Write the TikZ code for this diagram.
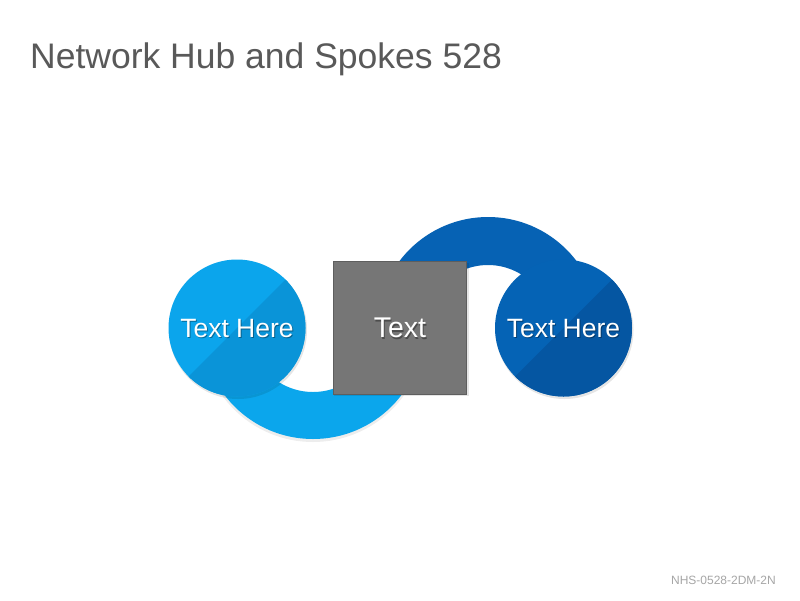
\documentclass[tikz,border=0pt]{standalone}
\usepackage{fontspec}
\setmainfont{Liberation Sans}
\usetikzlibrary{calc}
\definecolor{lightring}{HTML}{0BA6EC}
\definecolor{lighttop}{HTML}{0BA5EC}
\definecolor{lightlow}{HTML}{0A94D8}
\definecolor{darkring}{HTML}{0662B4}
\definecolor{darktop}{HTML}{0563B5}
\definecolor{darklow}{HTML}{0556A2}
\definecolor{hubgray}{HTML}{767676}
\definecolor{hubedge}{HTML}{5E5E5E}
\definecolor{titlegray}{HTML}{595959}
\definecolor{footgray}{HTML}{A6A6A6}
\tikzset{
  spoke/.style args={#1 and #2}{circle, minimum size=137pt, inner sep=0pt, fill=#1,
    path picture={\fill[#2] (path picture bounding box.south west) -- (path picture bounding box.north east) -- (path picture bounding box.south east) -- cycle;}},
  hubbox/.style={rectangle, minimum size=133pt, inner sep=0pt, fill=hubgray, draw=hubedge, line width=0.8pt},
  shade/.style={fill=black, opacity=0.10},
  whitetext/.style={text=white},
  shadowtext/.style={text=black, opacity=0.35}
}
\begin{document}
\begin{tikzpicture}[x=1pt,y=-1pt]
\useasboundingbox (0,0) rectangle (800,600);
\fill[white] (0,0) rectangle (800,600);
% title and footer
\node[anchor=base west, inner sep=0pt, text=titlegray, font=\fontsize{35.5}{40}\selectfont] (title) at (30,68) {Network Hub and Spokes 528};
\node[anchor=base east, inner sep=0pt, text=footgray, font=\fontsize{12}{14}\selectfont] (foot) at (776,584) {NHS-0528-2DM-2N};
% rings
\fill[black, opacity=0.07] (313+112,330) arc[start angle=0, end angle=180, radius=112] -- (313-64,330) arc[start angle=180, end angle=0, radius=64] -- cycle;
\fill[lightring] (313+111,328) arc[start angle=0, end angle=180, radius=111] -- (313-64,328) arc[start angle=180, end angle=0, radius=64] -- cycle;
\fill[darkring] (488-111,328) arc[start angle=180, end angle=360, radius=111] -- (488+63,328) arc[start angle=0, end angle=-180, radius=63] -- cycle;
% shadows
\fill[shade] (238,330) circle[radius=69];
\fill[shade] (564.5,330) circle[radius=69];
\fill[shade] (334,263) rectangle (469,396);
% spokes and hub
\node[spoke=lighttop and lightlow] (left) at (237,328) {};
\node[spoke=darktop and darklow] (right) at (563.5,328) {};
\node[hubbox] (hub) at (400,327.5) {};
% labels
\node[shadowtext, font=\fontsize{26.5}{30}\selectfont] at ($(left)+(1,2)$) {Text Here};
\node[whitetext, font=\fontsize{26.5}{30}\selectfont] (lefttext) at ($(left)+(0,0.5)$) {Text Here};
\node[shadowtext, font=\fontsize{28.5}{33}\selectfont] at ($(hub)+(1,2)$) {Text};
\node[whitetext, font=\fontsize{28.5}{33}\selectfont] (hubtext) at ($(hub)+(0,0.5)$) {Text};
\node[shadowtext, font=\fontsize{26.5}{30}\selectfont] at ($(right)+(1,2)$) {Text Here};
\node[whitetext, font=\fontsize{26.5}{30}\selectfont] (righttext) at ($(right)+(0,0.5)$) {Text Here};
\end{tikzpicture}
\end{document}
